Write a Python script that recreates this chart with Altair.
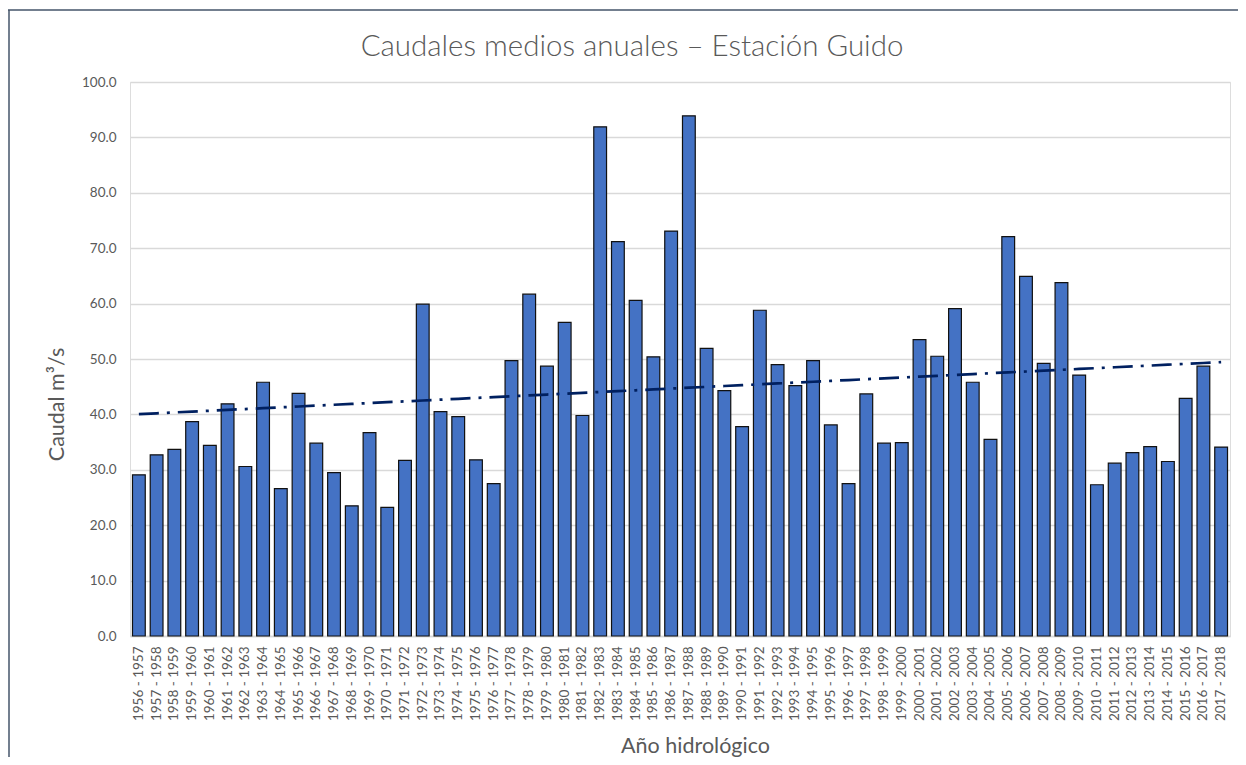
import altair as alt
import pandas as pd
import numpy as np

start_years = list(range(1956, 2018))
periods = [f"{y} - {y + 1}" for y in start_years]

caudal = [
    29.1, 32.7, 33.7, 38.7, 34.4, 41.9, 30.6, 45.8, 26.6, 43.8, 34.8, 29.5,
    23.5, 36.7, 23.2, 31.7,
    59.9, 40.5, 39.6, 31.8, 27.5, 49.7, 61.7, 48.7, 56.6, 39.8, 91.9, 71.2,
    60.6, 50.4, 73.1, 93.9, 51.9, 44.3, 37.8, 58.8, 49.0, 45.2, 49.7,
    38.1, 27.5, 43.7, 34.8, 34.9, 53.5, 50.5, 59.1, 45.8, 35.5, 72.1, 64.9,
    49.2, 63.8, 47.1, 27.3, 31.2, 33.1, 34.2, 31.5, 42.9, 48.7, 34.1,
]

y_ticks = [0, 10, 20, 30, 40, 50, 60, 70, 80, 90, 100]

df = pd.DataFrame({"periodo": periods, "caudal": caudal})
idx = np.arange(len(caudal))
slope, intercept = np.polyfit(idx, np.array(caudal), 1)
df["tendencia"] = intercept + slope * idx

FONT = "Lato"
GREY = "#595959"

x_enc = alt.X(
    "periodo:N",
    sort=periods,
    title="Año hidrológico",
    scale=alt.Scale(paddingInner=0.28, paddingOuter=0.14),
    axis=alt.Axis(
        labelAngle=-90,
        labelFont=FONT,
        labelFontSize=13.5,
        labelColor=GREY,
        labelPadding=10,
        ticks=False,
        domainColor="#D9D9D9",
        domainWidth=1.5,
        titleFont=FONT,
        titleFontSize=21.5,
        titleFontWeight="normal",
        titleColor=GREY,
        titleX=565,
        titleY=99,
    ),
)

y_enc = alt.Y(
    "caudal:Q",
    scale=alt.Scale(domain=[0, 100], nice=False),
    title="Caudal m³/s",
    axis=alt.Axis(
        values=y_ticks,
        format=".1f",
        labelFont=FONT,
        labelFontSize=13.5,
        labelColor=GREY,
        labelPadding=14,
        ticks=False,
        domain=False,
        gridColor="#D9D9D9",
        gridWidth=1.5,
        titleFont=FONT,
        titleFontSize=21.5,
        titleFontWeight="normal",
        titleColor=GREY,
        titleX=-62,
        titleY=322,
    ),
)

base = alt.Chart(df)

bars = base.mark_bar(color="#4472C4", stroke="#111111", strokeWidth=1.2).encode(
    x=x_enc, y=y_enc
)

trend = base.mark_line(
    color="#002060", strokeWidth=2.7, strokeDash=[20, 8, 3, 8], strokeCap="butt"
).encode(x=alt.X("periodo:N", sort=periods), y=alt.Y("tendencia:Q"))

frame_df = pd.DataFrame({"k": [0]})
frame_top = alt.Chart(frame_df).mark_rule(color="#44546A", strokeWidth=1.5, clip=False).encode(
    x=alt.value(-122), x2=alt.value(1110), y=alt.value(-72)
)
frame_left = alt.Chart(frame_df).mark_rule(color="#44546A", strokeWidth=1.5, clip=False).encode(
    x=alt.value(-121), y=alt.value(-72), y2=alt.value(700)
)

chart = (
    alt.layer(bars, trend, frame_top, frame_left)
    .properties(
        width=1100,
        height=554,
        title=alt.TitleParams(
            "Caudales medios anuales – Estación Guido",
            font=FONT,
            fontSize=29.5,
            fontWeight=300,
            color=GREY,
            anchor="middle",
            dx=-48,
            offset=-53,
        ),
        autosize=alt.AutoSizeParams(type="none"),
        padding={"left": 122, "top": 74, "right": 8, "bottom": 121},
    )
    .configure_view(stroke=None)
    .configure(background="white")
)

chart.save("out.html", embed_options={"renderer": "svg", "actions": False})
